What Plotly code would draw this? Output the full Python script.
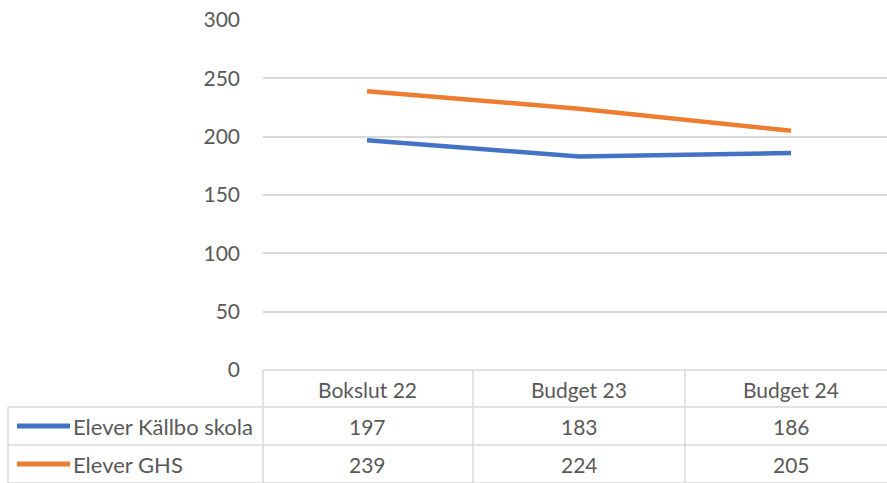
import plotly.graph_objects as go

categories = ["Bokslut 22", "Budget 23", "Budget 24"]
series_names = ["Elever Källbo skola", "Elever GHS"]
kallbo = [197, 183, 186]
ghs = [239, 224, 205]
colors = ["#4472C4", "#ED7D31"]
y_ticks = [0, 50, 100, 150, 200, 250, 300]

W, H = 887, 483
L, T, B = 263, 20, 113
PH = H - T - B  # 350


def py(pix):
    return (H - B - pix) / PH


def px(pix):
    return (pix - L) / (W - L)


grid = "#d9d9d9"
txt = "#595959"
font = "Lato"
fs = 21

fig = go.Figure()
for name, vals, c in zip(series_names, [kallbo, ghs], colors):
    fig.add_trace(go.Scatter(x=list(range(len(categories))), y=vals, mode="lines",
                             name=name, line=dict(color=c, width=4.5), showlegend=False,
                             hoverinfo="y"))

shapes = []
shapes.append(dict(type="line", xref="paper", yref="paper", x0=0, x1=1, y0=py(370), y1=py(370),
                   line=dict(color=grid, width=1.5)))
for yy in [407, 445, 483]:
    shapes.append(dict(type="line", xref="paper", yref="paper", x0=px(8), x1=1, y0=py(yy), y1=py(yy),
                       line=dict(color=grid, width=1.5)))
shapes.append(dict(type="line", xref="paper", yref="paper", x0=0, x1=0, y0=py(370), y1=py(483),
                   line=dict(color=grid, width=1.5)))
shapes.append(dict(type="line", xref="paper", yref="paper", x0=px(8), x1=px(8), y0=py(407), y1=py(483),
                   line=dict(color=grid, width=1.5)))
for i in range(len(categories) - 1):
    shapes.append(dict(type="line", xref="x", yref="paper", x0=i + 0.5, x1=i + 0.5,
                       y0=py(370), y1=py(483), line=dict(color=grid, width=1.5)))

annotations = []
for i, cat in enumerate(categories):
    annotations.append(dict(x=i, y=py(389), xref="x", yref="paper", text=cat, showarrow=False,
                            font=dict(family=font, size=fs, color=txt), xanchor="center", yanchor="middle"))
row_y = [426, 464]
for r, (name, vals, c) in enumerate(zip(series_names, [kallbo, ghs], colors)):
    for i, v in enumerate(vals):
        annotations.append(dict(x=i, y=py(row_y[r]), xref="x", yref="paper", text=str(v), showarrow=False,
                                font=dict(family=font, size=fs, color=txt), xanchor="center", yanchor="middle"))
    annotations.append(dict(x=px(71), y=py(row_y[r]), xref="paper", yref="paper", text=name, showarrow=False,
                            font=dict(family=font, size=22, color=txt), xanchor="left", yanchor="middle"))
    shapes.append(dict(type="line", xref="paper", yref="paper", x0=px(17), x1=px(70),
                       y0=py(row_y[r]), y1=py(row_y[r]), line=dict(color=c, width=5)))

fig.update_layout(
    width=W, height=H,
    margin=dict(l=L, r=0, t=T, b=B),
    plot_bgcolor="white", paper_bgcolor="white",
    xaxis=dict(range=[-0.4906, 2.4528], showticklabels=False, showgrid=False, zeroline=False,
               showline=False, fixedrange=True),
    yaxis=dict(range=[0, 300], tickvals=y_ticks, showgrid=True, gridcolor=grid, gridwidth=1.5,
               zeroline=False, showline=False, ticks="", ticklabelstandoff=22,
               tickfont=dict(family=font, size=fs, color=txt)),
    shapes=shapes,
    annotations=annotations,
)

fig.write_html("out.html", config={"displayModeBar": False},
               post_script="document.body.style.margin='0';")
